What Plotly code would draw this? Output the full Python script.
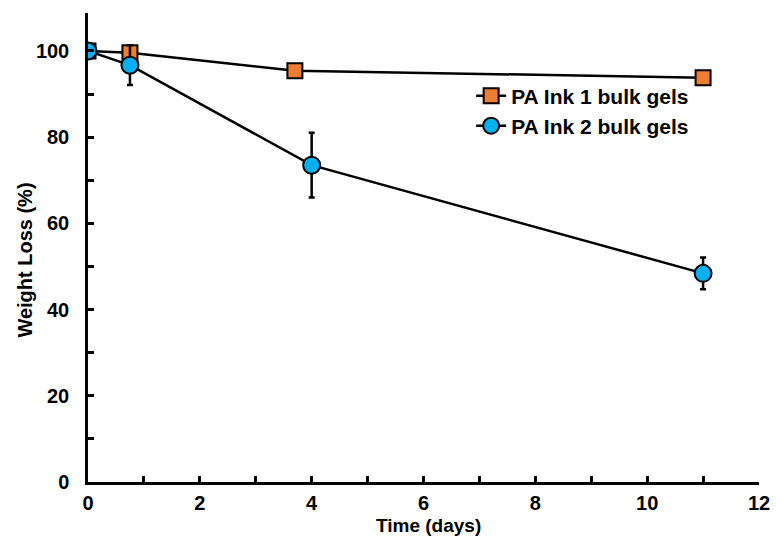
import plotly.graph_objects as go

# Degradation data: days vs remaining weight (%)
ink1_days = [0, 0.75, 3.7, 11]
ink1_weight = [100, 99.6, 95.4, 93.8]

ink2_days = [0, 0.75, 4, 11]
ink2_weight = [100, 96.7, 73.5, 48.4]
ink2_err = [0, 4.6, 7.5, 3.7]

x_ticks = [0, 2, 4, 6, 8, 10, 12]
y_ticks = [0, 20, 40, 60, 80, 100]

FONT = "Arial, 'Liberation Sans', sans-serif"

fig = go.Figure()

fig.add_trace(go.Scatter(
    x=ink1_days, y=ink1_weight, mode="lines+markers",
    name="PA Ink 1 bulk gels", legend="legend",
    line=dict(color="black", width=2.5),
    marker=dict(symbol="square", size=15, color="#ED7D31",
                line=dict(color="black", width=2)),
))

fig.add_trace(go.Scatter(
    x=ink2_days, y=ink2_weight, mode="lines+markers",
    name="PA Ink 2 bulk gels", legend="legend2",
    line=dict(color="black", width=2.5),
    marker=dict(symbol="circle", size=17, color="#00B0F0",
                line=dict(color="black", width=2)),
    error_y=dict(type="data", array=ink2_err, visible=True,
                 color="black", thickness=2.5, width=3),
))

axis_common = dict(
    showline=True, linecolor="black", linewidth=2.5,
    showgrid=False, zeroline=False,
    ticks="inside", ticklen=6, tickwidth=2.5, tickcolor="black",
    tickfont=dict(family=FONT, size=20, color="black", weight="bold"),
)

fig.update_xaxes(
    range=[0, 12], tickvals=x_ticks,
    minor=dict(ticks="inside", dtick=1, ticklen=6, tickwidth=2.5, tickcolor="black"),
    ticklabelstandoff=1,
    **axis_common,
)
fig.update_yaxes(
    range=[0, 108.8], tickvals=y_ticks,
    minor=dict(ticks="inside", dtick=10, ticklen=6, tickwidth=2.5, tickcolor="black"),
    ticklabelstandoff=12,
    **axis_common,
)

title_font = dict(family=FONT, size=20, color="black", weight="bold")
fig.add_annotation(text="Time (days)", xref="paper", yref="paper",
                   x=0.508, y=-0.093, xanchor="center", yanchor="middle",
                   showarrow=False, font=dict(title_font, size=19))
fig.add_annotation(text="Weight Loss (%)", xref="paper", yref="paper",
                   x=-0.094, y=0.474, xanchor="center", yanchor="middle",
                   textangle=-90, showarrow=False, font=title_font)

legend_common = dict(xanchor="left", yanchor="middle",
                     bgcolor="rgba(0,0,0,0)", itemwidth=30,
                     font=dict(family=FONT, size=21, color="black", weight="bold"))

fig.update_layout(
    width=782, height=539,
    margin=dict(l=88, r=13, t=13, b=57),
    plot_bgcolor="white", paper_bgcolor="white",
    showlegend=True,
    legend=dict(x=0.571, y=0.823, **legend_common),
    legend2=dict(x=0.571, y=0.759, **legend_common),
)

fig.write_html("out.html")
